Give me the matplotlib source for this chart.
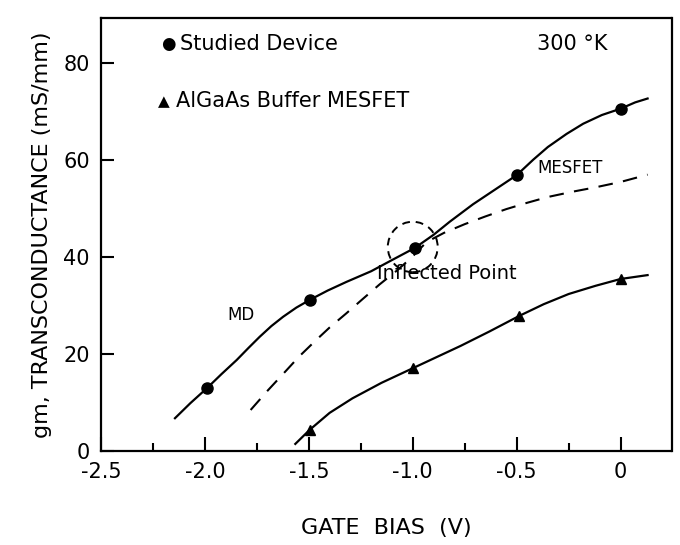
import matplotlib
matplotlib.use("Agg")
import matplotlib.pyplot as plt
from matplotlib.patches import Ellipse

# measured points
md_x = [-1.99, -1.495, -0.99, -0.50, 0.0]
md_y = [12.9, 31.1, 41.8, 56.8, 70.5]
buf_x = [-1.496, -1.0, -0.487, 0.0]
buf_y = [4.3, 17.0, 27.8, 35.4]

# traced fitted curves
md_curve_x = [-2.144, -2.07, -1.99, -1.92, -1.847, -1.79, -1.736, -1.68, -1.624, -1.56,
              -1.495, -1.41, -1.319, -1.2, -1.1, -0.99, -0.9, -0.822, -0.71, -0.598,
              -0.5, -0.42, -0.35, -0.26, -0.18, -0.09, 0.0, 0.07, 0.13]
md_curve_y = [6.7, 9.8, 12.9, 15.8, 18.7, 21.2, 23.5, 25.7, 27.6, 29.5,
              31.1, 33.0, 34.8, 37.0, 39.3, 41.8, 44.5, 47.2, 50.8, 54.0,
              56.8, 60.0, 62.6, 65.3, 67.4, 69.2, 70.5, 71.8, 72.6]
mes_curve_x = [-1.78, -1.70, -1.62, -1.547, -1.47, -1.40, -1.32, -1.24, -1.159, -1.08,
               -1.006, -0.934, -0.85, -0.75, -0.65, -0.55, -0.45, -0.35, -0.23, -0.12,
               0.0, 0.13]
mes_curve_y = [8.4, 12.3, 16.0, 19.4, 22.6, 25.4, 28.3, 31.3, 34.3, 37.0,
               39.8, 43.0, 44.9, 46.7, 48.3, 49.8, 51.1, 52.3, 53.4, 54.3,
               55.4, 56.9]
buf_curve_x = [-1.565, -1.496, -1.40, -1.29, -1.15, -1.0, -0.88, -0.77, -0.63, -0.487,
               -0.37, -0.25, -0.12, 0.0, 0.13]
buf_curve_y = [1.4, 4.3, 7.8, 10.8, 14.0, 17.0, 19.4, 21.6, 24.6, 27.8,
               30.2, 32.3, 34.0, 35.4, 36.2]

xticks = [-2.5, -2.0, -1.5, -1.0, -0.5, 0.0]
xticklabels = ['-2.5', '-2.0', '-1.5', '-1.0', '-0.5', '0']
xminor = [-2.25, -1.75, -1.25, -0.75, -0.25]
yticks = [0, 20, 40, 60, 80]

plt.rcParams['font.family'] = ['DejaVu Sans']

fig = plt.figure(figsize=(6.8, 5.45), dpi=100)
ax = fig.add_axes([0.1485, 0.173, 0.839, 0.794])

line_kw = dict(color='black', solid_joinstyle='round', dash_joinstyle='round')
ax.plot(md_curve_x, md_curve_y, lw=1.6, **line_kw)
ax.plot(mes_curve_x, mes_curve_y, lw=1.5, linestyle=(0, (7, 5)), **line_kw)
ax.plot(buf_curve_x, buf_curve_y, lw=1.6, **line_kw)
ax.plot(md_x, md_y, 'o', color='black', markersize=8)
ax.plot(buf_x, buf_y, '^', color='black', markersize=7)

# dashed circle around the inflection point
ax.add_patch(Ellipse((-1.0, 42.0), 0.24, 10.4, fill=False, edgecolor='black',
                     lw=1.4, linestyle=(0, (4, 3))))

ax.text(-2.21, 83.9, '●', fontsize=12, va='center', ha='left')
ax.text(-2.12, 83.9, 'Studied Device', fontsize=15, va='center', ha='left')
ax.text(-2.225, 72.0, '▲', fontsize=11, va='center', ha='left')
ax.text(-2.14, 72.0, 'AlGaAs Buffer MESFET', fontsize=15, va='center', ha='left')
ax.text(-0.40, 83.9, '300 °K', fontsize=15, va='center', ha='left')
ax.text(-0.40, 58.2, 'MESFET', fontsize=12, va='center', ha='left')
ax.text(-1.89, 28.0, 'MD', fontsize=12, va='center', ha='left')
ax.text(-1.17, 36.6, 'Inflected Point', fontsize=14, va='center', ha='left')

ax.set_xlim(-2.5, 0.245)
ax.set_ylim(0, 89.2)
ax.set_xticks(xticks)
ax.set_xticklabels(xticklabels)
ax.set_xticks(xminor, minor=True)
ax.set_yticks(yticks)
ax.tick_params(axis='both', which='major', direction='in', length=10, width=1.5,
               labelsize=15, pad=8)
ax.tick_params(axis='x', which='minor', direction='in', length=6, width=1.5)
ax.tick_params(axis='y', which='major', length=9)
for s in ax.spines.values():
    s.set_linewidth(1.6)

ax.set_xlabel('GATE  BIAS  (V)', fontsize=16, labelpad=26)
ax.set_ylabel('gm, TRANSCONDUCTANCE (mS/mm)', fontsize=16, labelpad=8)

fig.savefig('out.png', dpi=100)
